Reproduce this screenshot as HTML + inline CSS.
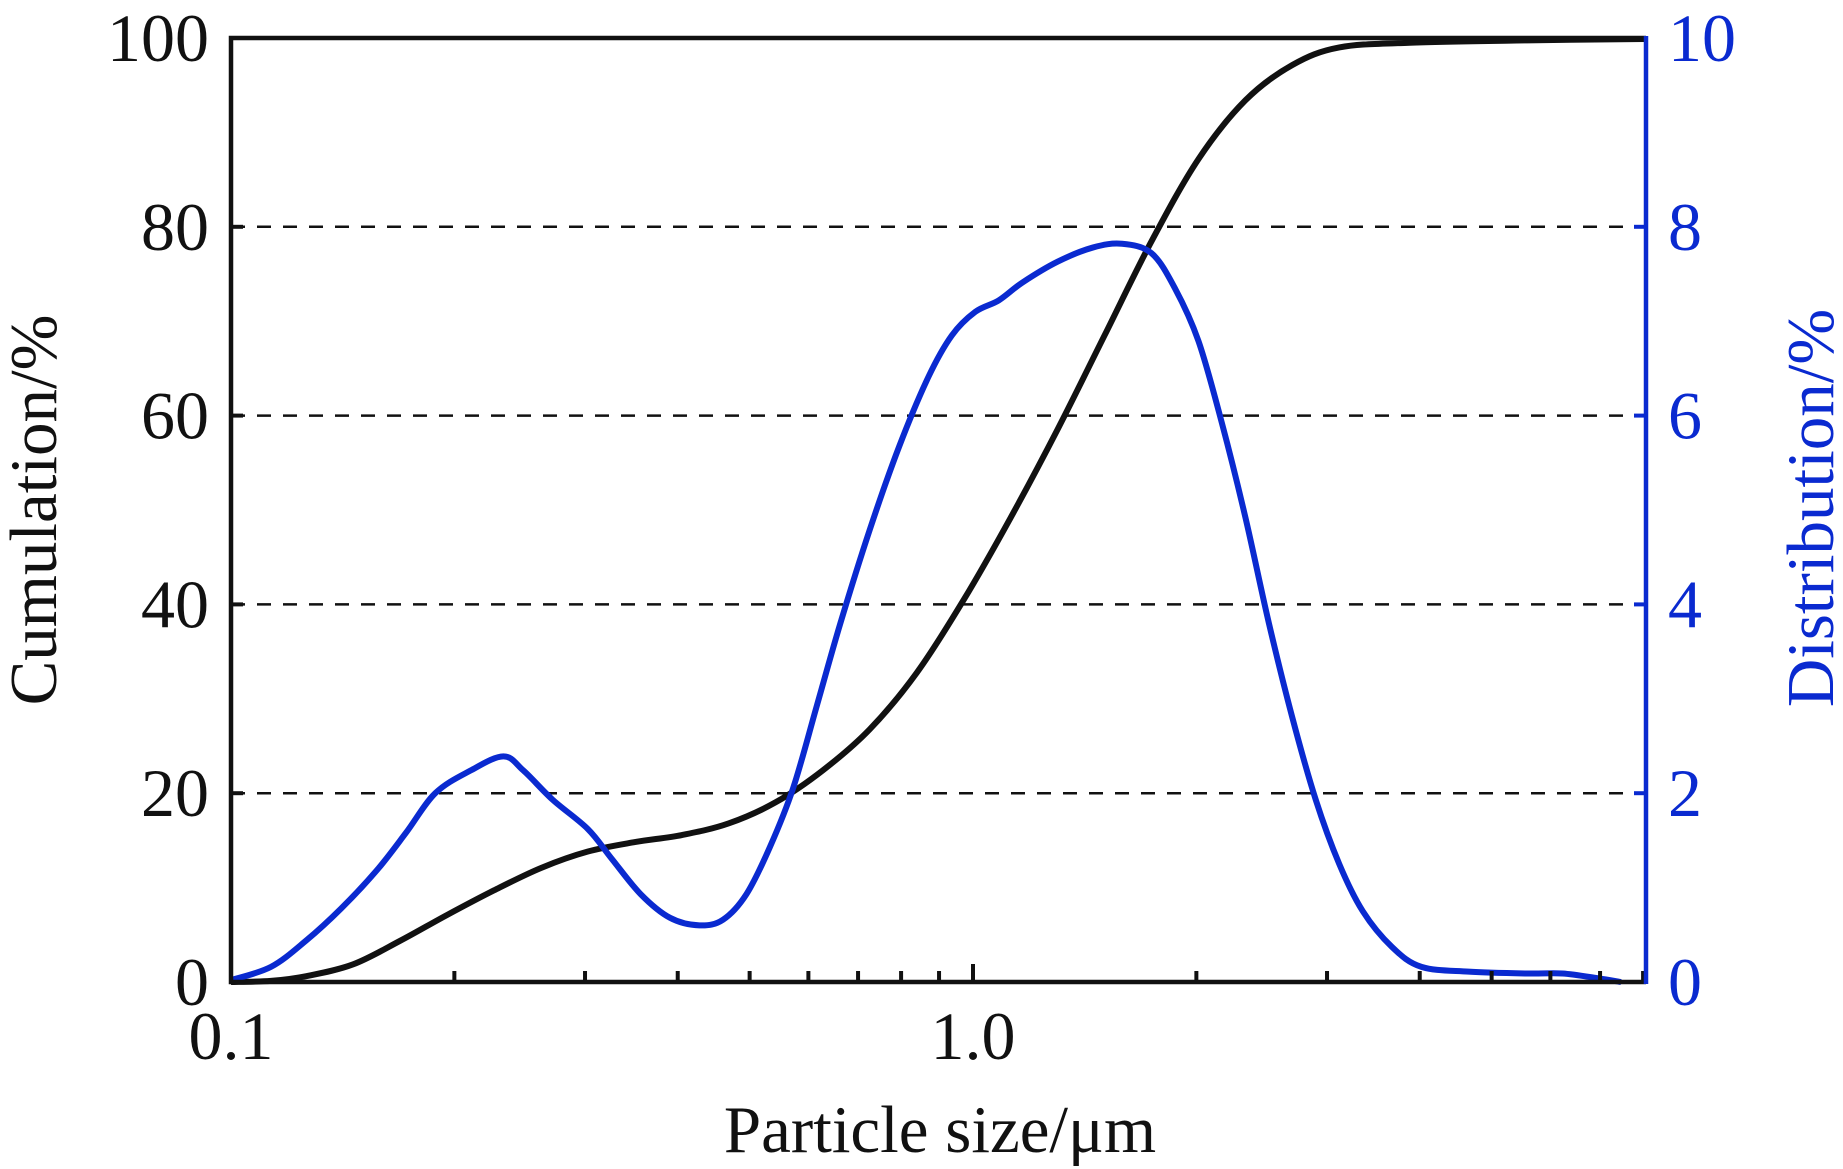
<!DOCTYPE html>
<html><head><meta charset="utf-8"><style>
html,body{margin:0;padding:0;background:#fff;}
svg{display:block;font-family:"Liberation Serif",serif;}
</style></head><body>
<svg id="chart" width="1843" height="1169" viewBox="0 0 1843 1169" xmlns="http://www.w3.org/2000/svg">
<g id="grid"></g>
<g id="series"></g>
<g id="axes"></g>
<text x="940" y="1152" font-size="67" text-anchor="middle" fill="#111">Particle size/μm</text>
<text x="0" y="0" font-size="67" text-anchor="middle" fill="#111" transform="translate(56,510) rotate(-90)">Cumulation/%</text>
<text x="0" y="0" font-size="67" text-anchor="middle" fill="#0a2ad0" transform="translate(1833,508) rotate(-90)">Distribution/%</text>
</svg>
<script>
const distSizes=[0.1,0.1132,0.1263,0.1408,0.1571,0.1721,0.1885,0.2103,0.2329,0.2478,0.2714,0.3027,0.3256,0.3566,0.3906,0.4279,0.4603,0.4950,0.5325,0.5726,0.6161,0.6626,0.7258,0.7950,0.8708,0.9366,1.0074,1.083,1.166,1.300,1.450,1.588,1.740,1.871,2.013,2.165,2.329,2.505,2.694,2.897,3.116,3.352,3.671,4.022,4.654,5.583,6.229,6.948,7.471];
const distValues=[0.02,0.16,0.44,0.78,1.18,1.58,2.0,2.24,2.39,2.24,1.93,1.62,1.31,0.93,0.68,0.6,0.66,0.93,1.43,2.06,2.93,3.8,4.79,5.67,6.41,6.85,7.1,7.22,7.41,7.63,7.78,7.82,7.72,7.35,6.79,5.92,4.92,3.8,2.8,1.93,1.25,0.75,0.37,0.16,0.11,0.09,0.09,0.04,0.0];
const cumSizes=[0.1,0.1132,0.1263,0.1461,0.1690,0.1955,0.2262,0.2617,0.3027,0.3502,0.4053,0.4688,0.5424,0.6275,0.7258,0.8397,0.9713,1.124,1.300,1.504,1.740,2.013,2.329,2.694,3.116,3.879,5.583,8.04];
const cumValues=[0,0.12,0.62,1.87,4.36,7.1,9.71,12.08,13.82,14.82,15.57,16.81,19.05,22.42,26.77,32.75,40.47,49.19,58.53,68.49,78.46,87.17,93.4,97.14,99.0,99.5,99.75,99.9];
const leftTicks=[0,20,40,60,80,100];
const rightTicks=[0,2,4,6,8,10];
const xMajor=[0.1,1.0];
const xMajorLabels=["0.1","1.0"];
const xMinor=[0.2,0.3,0.4,0.5,0.6,0.7,0.8,0.9,2,3,4,5,6,7,8];

const X0=231,X1=1646,Y0=38,Y1=982,DEC=742;
const BLUE="#0a2ad0";
const NS="http://www.w3.org/2000/svg";
function xs(v){return X0+(Math.log10(v)+1)*DEC;}
function yl(v){return Y1-(v/100)*(Y1-Y0);}
function yr(v){return Y1-(v/10)*(Y1-Y0);}
function mk(tag,attrs,parent){const e=document.createElementNS(NS,tag);for(const k in attrs)e.setAttribute(k,attrs[k]);parent.appendChild(e);return e;}
const grid=document.getElementById('grid'),series=document.getElementById('series'),axes=document.getElementById('axes');

leftTicks.forEach(t=>{
  if(t>0&&t<100){
    const g=mk('line',{x1:X0,x2:X1,y1:yl(t),y2:yl(t),stroke:'#111','stroke-width':2.5,'stroke-dasharray':'14 12'},grid);
    
    
  }
  const tk=mk('line',{x1:X0,x2:X0+12,y1:yl(t),y2:yl(t),stroke:'#111','stroke-width':4},axes);
  
  
  const lb=mk('text',{x:209,y:yl(t)+23,'font-size':68,'text-anchor':'end',fill:'#111'},axes);
  lb.textContent=t;
  
  
});
rightTicks.forEach(t=>{
  const tk=mk('line',{x1:X1-12,x2:X1,y1:yr(t),y2:yr(t),stroke:BLUE,'stroke-width':4},axes);
  
  
  const lb=mk('text',{x:1668,y:yr(t)+23,'font-size':68,'text-anchor':'start',fill:BLUE},axes);
  lb.textContent=t;
  
  
});
xMinor.forEach(v=>{
  const tk=mk('line',{x1:xs(v),x2:xs(v),y1:Y1,y2:Y1-11,stroke:'#111','stroke-width':4},axes);
  
  
});
xMajor.forEach((v,i)=>{
  const tk=mk('line',{x1:xs(v),x2:xs(v),y1:Y1,y2:Y1-18,stroke:'#111','stroke-width':4},axes);
  
  
  const lb=mk('text',{x:xs(v),y:1059,'font-size':68,'text-anchor':'middle',fill:'#111'},axes);
  lb.textContent=xMajorLabels[i];
  
  
});
const fr=mk('path',{d:`M${X1},${Y1} L${X0},${Y1} L${X0},${Y0} L${X1},${Y0}`,fill:'none',stroke:'#111','stroke-width':4.5},axes);


const ra=mk('line',{x1:X1,x2:X1,y1:Y0-2,y2:Y1+2,stroke:BLUE,'stroke-width':4.5},axes);



function smoothPath(pts){
  let d=`M${pts[0][0]},${pts[0][1]}`;
  for(let i=0;i<pts.length-1;i++){
    const p0=pts[i-1]||pts[i],p1=pts[i],p2=pts[i+1],p3=pts[i+2]||p2;
    d+=` C${p1[0]+(p2[0]-p0[0])/6},${p1[1]+(p2[1]-p0[1])/6} ${p2[0]-(p3[0]-p1[0])/6},${p2[1]-(p3[1]-p1[1])/6} ${p2[0]},${p2[1]}`;
  }
  return d;
}
const cp=mk('path',{d:smoothPath(cumSizes.map((s,i)=>[xs(s),yl(cumValues[i])])),fill:'none',stroke:'#111','stroke-width':6,'stroke-linejoin':'round'},series);


const dp=mk('path',{d:smoothPath(distSizes.map((s,i)=>[xs(s),yr(distValues[i])])),fill:'none',stroke:BLUE,'stroke-width':6,'stroke-linejoin':'round'},series);


</script>
</body></html>
